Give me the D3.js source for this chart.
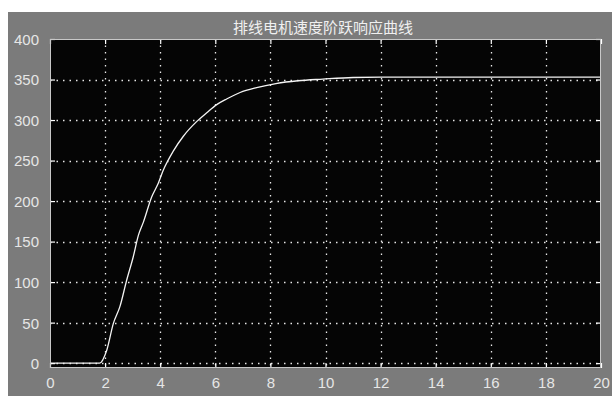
<!DOCTYPE html>
<html><head><meta charset="utf-8">
<script src="https://cdn.jsdelivr.net/npm/d3@7/dist/d3.min.js"></script>
<style>html,body{margin:0;padding:0;background:#fff;}svg{display:block;}</style>
</head><body>
<svg id="c" width="612" height="398"></svg>
<script>
const title = "排线电机速度阶跃响应曲线";
const timeValues  = [0, 1.8, 2.06, 2.3, 2.54, 2.78, 3.02, 3.21, 3.39, 3.69, 3.93, 4.11, 4.48, 4.84, 5.32, 5.69, 6.05, 6.41, 6.9, 7.5, 8.2, 9.0, 9.9, 11.0, 12, 20];
const speedValues = [0, 0, 16, 49, 70, 102, 131, 158, 174, 205, 222, 238, 262, 280, 298, 309, 319, 326, 334, 340, 345, 348.5, 350.5, 352.5, 353, 353];
const xTicks = [0, 2, 4, 6, 8, 10, 12, 14, 16, 18, 20];
const yTicks = [0, 50, 100, 150, 200, 250, 300, 350, 400];

const svg = d3.select("#c");
const L = 50, R = 601, T = 39, B = 368;
svg.append("rect").attr("x", 8).attr("y", 12).attr("width", 604).attr("height", 384).attr("fill", "#7b7b7b");

const x = d3.scaleLinear().domain([0, 20]).range([L, R]);
const y = d3.scaleLinear().domain([-6, 400]).range([B, T]);

svg.append("rect").attr("x", L).attr("y", T).attr("width", R - L).attr("height", B - T).attr("fill", "#050505");

const grid = svg.append("g").attr("stroke", "#e8e8e8").attr("stroke-width", 1.3).attr("stroke-dasharray", "1.5 5");
grid.selectAll("line.v").data(xTicks.filter(d => d > 0 && d < 20)).join("line")
  .attr("x1", d => Math.round(x(d)) + 0.5).attr("x2", d => Math.round(x(d)) + 0.5)
  .attr("y1", T).attr("y2", B);
grid.selectAll("line.h").data(yTicks.filter(d => d < 400)).join("line")
  .attr("y1", d => Math.round(y(d)) + 0.5).attr("y2", d => Math.round(y(d)) + 0.5)
  .attr("x1", L).attr("x2", R);

// curve
const data = timeValues.map((t, i) => [t, speedValues[i]]);
svg.append("path").datum(data)
  .attr("d", d3.line().x(d => x(d[0])).y(d => y(d[1])).curve(d3.curveMonotoneX))
  .attr("fill", "none").attr("stroke", "#f4f4f4").attr("stroke-width", 1.3);

// axes
const font = "'Liberation Sans Narrow','Liberation Sans',Arial,sans-serif";
const xa = svg.append("g").attr("transform", `translate(0,${B})`)
  .call(d3.axisBottom(x).tickValues(xTicks).tickSize(-5).tickPadding(9).tickFormat(d3.format("d")));
const xaT = svg.append("g").attr("transform", `translate(0,${T})`)
  .call(d3.axisTop(x).tickValues(xTicks).tickSize(-5).tickFormat(""));
const ya = svg.append("g").attr("transform", `translate(${L},0)`)
  .call(d3.axisLeft(y).tickValues(yTicks).tickSize(-5).tickPadding(11).tickFormat(d3.format("d")));
const yaR = svg.append("g").attr("transform", `translate(${R},0)`)
  .call(d3.axisRight(y).tickValues(yTicks).tickSize(-5).tickFormat(""));
[xa, xaT, ya, yaR].forEach(g => {
  g.select(".domain").remove();
  g.selectAll(".tick line").attr("stroke", "#ffffff").attr("stroke-width", 1.2);
  g.selectAll(".tick text").attr("fill", "#e6e6e6").style("font-family", font).style("font-size", "15px");
});
ya.selectAll(".tick text").attr("dy", "0.36em");

svg.append("rect").attr("x", L + 0.5).attr("y", T + 0.5).attr("width", R - L - 1).attr("height", B - T - 1)
  .attr("fill", "none").attr("stroke", "#c8c8c8").attr("stroke-width", 1);

svg.append("text").attr("x", 323).attr("y", 33).attr("text-anchor", "middle")
  .attr("fill", "#f0f0f0").style("font-family", "'Noto Sans CJK SC',sans-serif").style("font-size", "15px")
  .text(title);
</script>
</body></html>
